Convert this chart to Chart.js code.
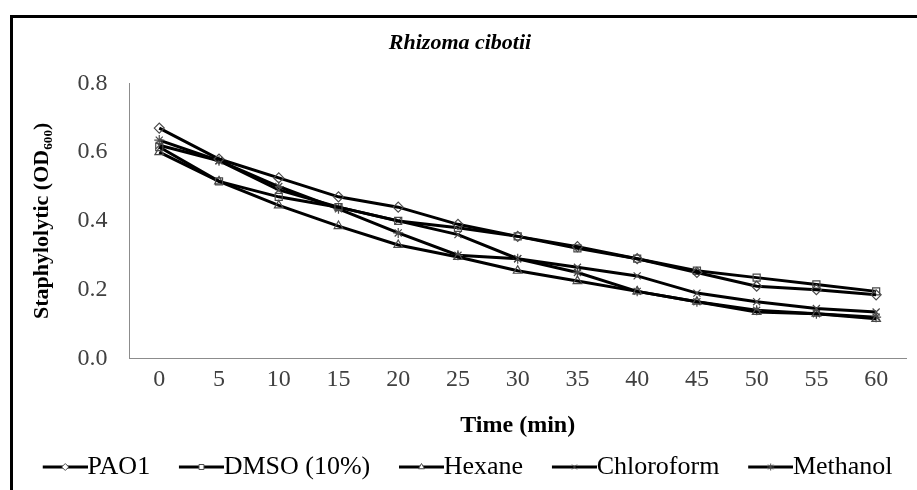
<!DOCTYPE html>
<html>
<head>
<meta charset="utf-8">
<script src="https://cdn.jsdelivr.net/npm/chart.js@4.4.1/dist/chart.umd.min.js"></script>
<style>
  body { margin: 0; background: #ffffff; overflow: hidden; }
  #wrap { position: relative; width: 917px; height: 490px; }
  #chart { position: absolute; left: 0; top: 0; }
  #frame { position: absolute; left: 10px; top: 15px; width: 1000px; height: 1000px;
           border-left: 3px solid #000; border-top: 3px solid #000; pointer-events: none; }
</style>
</head>
<body>
<div id="wrap">
  <canvas id="chart" width="917" height="490"></canvas>
  <div id="frame"></div>
</div>
<script>
// time points (min)
var timeLabels = ['0', '5', '10', '15', '20', '25', '30', '35', '40', '45', '50', '55', '60'];

// OD600 readings per treatment
var pao1       = [0.67, 0.58, 0.525, 0.47, 0.44, 0.39, 0.355, 0.325, 0.29, 0.25, 0.21, 0.20, 0.185];
var dmso       = [0.615, 0.515, 0.47, 0.44, 0.40, 0.38, 0.355, 0.32, 0.29, 0.255, 0.235, 0.215, 0.195];
var hexane     = [0.60, 0.515, 0.445, 0.385, 0.33, 0.295, 0.255, 0.225, 0.195, 0.165, 0.135, 0.13, 0.115];
var chloroform = [0.62, 0.575, 0.49, 0.44, 0.40, 0.36, 0.29, 0.265, 0.24, 0.19, 0.165, 0.145, 0.135];
var methanol   = [0.635, 0.575, 0.50, 0.435, 0.365, 0.30, 0.29, 0.25, 0.195, 0.165, 0.14, 0.13, 0.12];

var seriesNames  = ['PAO1', 'DMSO (10%)', 'Hexane', 'Chloroform', 'Methanol'];
var seriesValues = [pao1, dmso, hexane, chloroform, methanol];
var seriesMarks  = ['rectRot', 'rect', 'triangle', 'crossRot', 'star'];

var yTicks = [0, 0.2, 0.4, 0.6, 0.8];

var serif = '"Liberation Serif", "Times New Roman", serif';
var markColor = '#4a4a4a';

// legend symbol: a short black line with the marker on it.
// the box is 55.5 wide, the line sits in its right part so text follows it directly
function legendSymbol(style) {
  var c = document.createElement('canvas');
  c.width = 82; c.height = 14;
  var g = c.getContext('2d');
  g.strokeStyle = '#000';
  g.lineWidth = 3;
  g.beginPath(); g.moveTo(37, 7); g.lineTo(82, 7); g.stroke();
  g.strokeStyle = markColor;
  g.fillStyle = '#fff';
  g.lineWidth = 1;
  Chart.helpers.drawPoint(g, {pointStyle: style, radius: 3.5, borderWidth: 1, rotation: 0}, 59.5, 7);
  return c;
}

var datasets = seriesNames.map(function (name, i) {
  return {
    label: name,
    data: seriesValues[i],
    borderColor: '#000',
    borderWidth: 3,
    backgroundColor: 'transparent',
    tension: 0,
    pointStyle: seriesMarks[i],
    pointRadius: 5,
    pointBorderColor: markColor,
    pointBackgroundColor: 'rgba(255,255,255,0)',
    pointBorderWidth: 1.2
  };
});

new Chart(document.getElementById('chart'), {
  type: 'line',
  data: { labels: timeLabels, datasets: datasets },
  options: {
    responsive: false,
    animation: false,
    layout: { padding: { left: 14, right: 11, top: 0, bottom: 0 } },
    plugins: {
      title: {
        display: true,
        text: 'Rhizoma cibotii',
        color: '#000',
        font: { family: serif, size: 22, weight: 'bold', style: 'italic' },
        padding: { top: 30, bottom: 27 }
      },
      legend: {
        position: 'bottom',
        align: 'start',
        labels: {
          color: '#000',
          font: { family: serif, size: 26 },
          usePointStyle: true,
          pointStyleWidth: 55.5,
          padding: 5,
          generateLabels: function (chart) {
            return chart.data.datasets.map(function (ds, i) {
              return {
                text: ds.label,
                pointStyle: legendSymbol(seriesMarks[i]),
                fillStyle: '#000',
                strokeStyle: '#000',
                lineWidth: 0,
                fontColor: '#000',
                datasetIndex: i
              };
            });
          }
        }
      },
      tooltip: { enabled: false }
    },
    scales: {
      x: {
        type: 'category',
        offset: true,
        grid: { display: false, drawTicks: false },
        border: { display: true, color: '#8c8c8c', width: 1 },
        ticks: { color: '#404040', font: { family: serif, size: 24 }, padding: 7, maxRotation: 0 },
        title: {
          display: true,
          text: 'Time (min)',
          color: '#000',
          font: { family: serif, size: 24, weight: 'bold' },
          padding: { top: 10, bottom: 9 }
        }
      },
      y: {
        min: 0,
        max: 0.8,
        afterBuildTicks: function (axis) {
          axis.ticks = yTicks.map(function (v) { return { value: v }; });
        },
        grid: { display: false, drawTicks: false },
        border: { display: true, color: '#8c8c8c', width: 1 },
        ticks: {
          color: '#404040',
          font: { family: serif, size: 24 },
          padding: 22,
          callback: function (v) { return Number(v).toFixed(1); }
        },
        title: {
          display: true,
          text: 'Staphylolytic (OD\u2086\u2080\u2080)',
          color: '#000',
          font: { family: serif, size: 22, weight: 'bold' },
          padding: { top: 15, bottom: 0 }
        }
      }
    }
  }
});
</script>
</body>
</html>
